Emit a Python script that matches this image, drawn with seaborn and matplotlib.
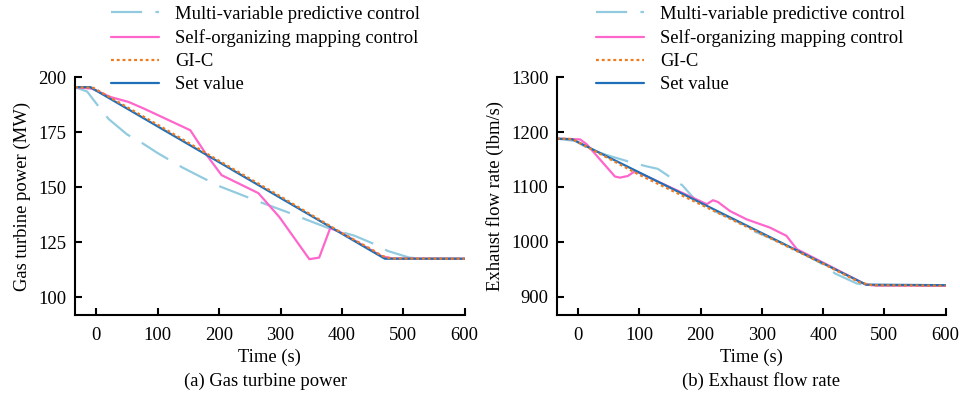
import matplotlib
matplotlib.use("Agg")
import matplotlib.pyplot as plt
import seaborn as sns
import pandas as pd

# (a) Gas turbine power, MW
p_set_t = [-35, -10, 470, 600]
p_set_v = [195.5, 195.5, 117.5, 117.5]
p_gic_t = [-35, -5, 100, 200, 300, 400, 450, 465, 480, 600]
p_gic_v = [195.5, 195.2, 178.4, 162.0, 145.8, 129.2, 121.5, 118.8, 117.6, 117.5]
p_mpc_t = [-35, -15, 0, 20, 50, 75, 100, 140, 175, 200, 245, 272, 310, 340, 380, 420, 450, 475, 510, 530, 600]
p_mpc_v = [195.5, 193.5, 188, 181, 174, 170, 165.5, 159, 154, 150.5, 145.6, 142.7, 138.8, 135.5, 131.2, 128, 124.5, 121, 118, 117.5, 117.5]
p_som_t = [-35, -7, 23, 52, 77, 153, 180, 204, 264, 298, 347, 363, 381, 398, 465, 483, 600]
p_som_v = [195.5, 194.8, 191, 188.8, 185.8, 175.9, 164.5, 155.5, 147.3, 136.5, 117.3, 118, 131.4, 129.5, 118.6, 117.6, 117.5]

# (b) Exhaust flow rate, lbm/s
f_set_t = [-35, -10, 470, 600]
f_set_v = [1188, 1187, 922, 921]
f_gic_t = [-35, -10, 100, 200, 300, 400, 460, 480, 600]
f_gic_v = [1188, 1187.5, 1122, 1068, 1014, 960, 926, 921, 920]
f_mpc_t = [-35, -5, 20, 50, 80, 110, 130, 150, 170, 190, 220, 255, 290, 330, 370, 395, 420, 455, 480, 600]
f_mpc_v = [1188, 1184, 1168, 1157, 1147, 1138, 1133, 1118, 1103, 1078, 1057, 1040, 1018, 999, 977, 962, 942, 924, 920, 920]
f_som_t = [-35, 3, 14, 60, 68, 81, 93, 210, 220, 228, 248, 275, 313, 340, 357, 470, 485, 600]
f_som_v = [1188, 1186.7, 1177.6, 1119, 1117, 1120, 1129, 1068.6, 1075.8, 1072.7, 1056, 1041, 1026, 1011, 986.7, 922, 920.5, 920]

labels = ["Multi-variable predictive control", "Self-organizing mapping control", "GI-C", "Set value"]
colors = ["#92cbe0", "#ff66cc", "#f07a1e", "#1f6fb8"]
styles = [(0, (14, 6)), "-", (0, (1.3, 1.3)), "-"]

sns.set_style("ticks", {"axes.edgecolor": "black", "xtick.color": "black", "ytick.color": "black",
                        "text.color": "black", "axes.labelcolor": "black"})
plt.rcParams["font.family"] = ["Liberation Serif", "DejaVu Serif"]
plt.rcParams["font.size"] = 13.4

fig = plt.figure(figsize=(9.6, 3.98), dpi=100)
ax1 = fig.add_axes([0.078, 0.209, 0.406, 0.597])
ax2 = fig.add_axes([0.580, 0.209, 0.405, 0.597])

panels = [
    (ax1, [(p_mpc_t, p_mpc_v), (p_som_t, p_som_v), (p_gic_t, p_gic_v), (p_set_t, p_set_v)],
     (92, 200), [100, 125, 150, 175, 200], "Gas turbine power (MW)", 0.1156, "(a) Gas turbine power", 0.277),
    (ax2, [(f_mpc_t, f_mpc_v), (f_som_t, f_som_v), (f_gic_t, f_gic_v), (f_set_t, f_set_v)],
     (867, 1300), [900, 1000, 1100, 1200, 1300], "Exhaust flow rate (lbm/s)", 0.6205, "(b) Exhaust flow rate", 0.793),
]

for ax, series, ylim, yticks, ylab, legx, cap, capx in panels:
    # set value drawn before GI-C so the dotted line stays visible
    order = [0, 1, 3, 2]
    for i in order:
        t, v = series[i]
        df = pd.DataFrame({"t": t, "v": v})
        sns.lineplot(data=df, x="t", y="v", ax=ax, color=colors[i], linestyle=styles[i],
                     lw=1.6, label=labels[i], sort=False)
    ax.set_xlim(-35, 600)
    ax.set_ylim(*ylim)
    ax.set_xticks([0, 100, 200, 300, 400, 500, 600])
    ax.set_yticks(yticks)
    ax.set_xlabel("Time (s)", labelpad=3)
    ax.set_ylabel(ylab, labelpad=5)
    sns.despine(ax=ax)
    for s in ["left", "bottom"]:
        ax.spines[s].set_linewidth(1.5)
    ax.tick_params(direction="in", length=5, width=1.5, pad=6)
    ax.tick_params(axis="x", pad=9)
    h, l = ax.get_legend_handles_labels()
    idx = [l.index(x) for x in labels]
    ax.legend([h[j] for j in idx], labels, loc="upper left", bbox_to_anchor=(legx, 0.985),
              bbox_transform=fig.transFigure, frameon=False, borderpad=0, borderaxespad=0,
              handlelength=2.6, handletextpad=0.85, labelspacing=0.33)
    fig.text(capx, 0.042, cap, ha="center", va="center")

fig.savefig("out.png", dpi=100)
